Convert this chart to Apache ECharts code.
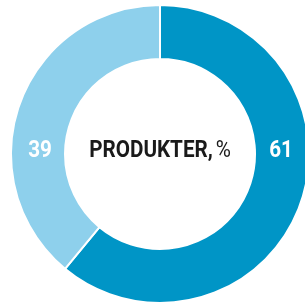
<!DOCTYPE html>
<html lang="en">
  <head>
    <meta charset="UTF-8" />
    <title>Produkter</title>
    <style>
      html, body { margin: 0; padding: 0; background: #fff; }
      #main { width: 305px; height: 305px; }
    </style>
  </head>
  <body>
    <div id="main"></div>
    <script src="https://cdn.jsdelivr.net/npm/echarts@6/dist/echarts.min.js"></script>
    <script>
      const categories = ['A', 'B']
      const values = [61, 39]
      const colors = ['#0095c6', '#8ed0ec']
      const centerTitle = 'PRODUKTER,'
      const centerUnit = '%'

      // no condensed face installed, so squeeze Roboto horizontally
      const font = 'Roboto, sans-serif'
      const squeeze = 0.86
      const cx = 160
      const cy = 154

      let myChart = echarts.init(document.getElementById('main'))
      let option = {
        animation: false,
        series: [
          {
            type: 'pie',
            center: [cx, cy],
            radius: [95, 149],
            startAngle: 90,
            clockwise: true,
            silent: true,
            label: { show: false },
            labelLine: { show: false },
            itemStyle: { borderColor: '#fff', borderWidth: 2 },
            data: categories.map((c, i) => ({
              name: c,
              value: values[i],
              itemStyle: { color: colors[i] }
            }))
          }
        ],
        graphic: [
          {
            type: 'text',
            z: 100,
            x: 281,
            y: 151,
            scaleX: squeeze,
            style: {
              text: String(values[0]),
              fill: '#fff',
              align: 'center',
              verticalAlign: 'middle',
              font: 'bold 24px ' + font
            }
          },
          {
            type: 'text',
            z: 100,
            x: 40,
            y: 151,
            scaleX: squeeze,
            style: {
              text: String(values[1]),
              fill: '#fff',
              align: 'center',
              verticalAlign: 'middle',
              font: 'bold 24px ' + font
            }
          },
          {
            type: 'text',
            z: 100,
            x: cx,
            y: 151,
            scaleX: squeeze,
            style: {
              text: '{b|' + centerTitle + '} {r|' + centerUnit + '}',
              align: 'center',
              verticalAlign: 'middle',
              rich: {
                b: { font: 'bold 24px ' + font, fill: '#1a1a1a' },
                r: { font: '24px ' + font, fill: '#1a1a1a' }
              }
            }
          }
        ]
      }
      myChart.setOption(option)
    </script>
  </body>
</html>
